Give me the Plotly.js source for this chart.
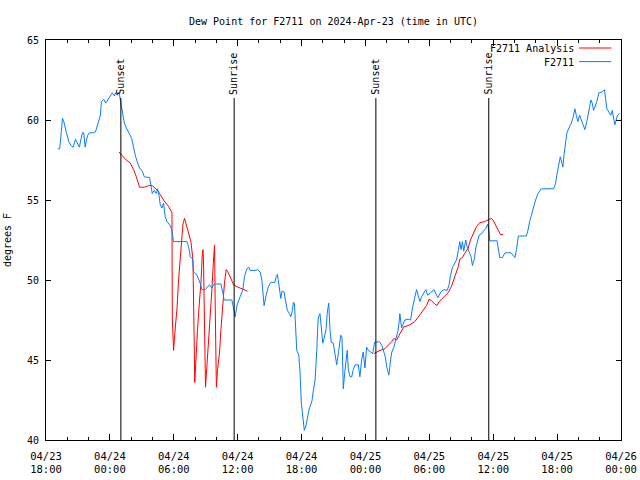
<!DOCTYPE html>
<html>
<head>
<meta charset="utf-8">
<script src="https://cdn.plot.ly/plotly-3.0.1.min.js"></script>
<style>html,body{margin:0;padding:0;background:#fff;}#chart{width:640px;height:480px;}</style>
</head>
<body>
<div id="chart"></div>
<script>
// Hours after 2024-04-23 18:00 UTC
const obsHours = [1.11,1.29,1.55,1.67,1.92,2.14,2.36,2.55,2.77,2.98,3.14,3.30,3.42,3.54,3.68,3.80,3.92,4.08,4.48,4.64,4.80,4.95,5.11,5.20,5.42,5.61,5.79,6.05,6.23,6.42,6.54,6.68,6.80,6.92,7.05,7.24,7.36,7.55,7.67,7.86,8.04,8.23,8.42,8.61,8.79,9.05,9.23,9.73,9.86,9.98,10.17,10.36,10.48,10.61,10.73,10.89,11.04,11.20,11.36,11.51,11.67,11.83,11.98,13.24,13.39,13.55,13.76,13.86,14.02,14.18,14.48,14.64,14.95,15.17,15.36,15.58,15.73,15.96,16.43,16.61,16.73,17.46,17.61,17.77,17.93,18.08,18.23,18.49,18.64,18.86,19.05,19.17,19.64,19.86,20.11,20.27,20.36,20.48,20.67,20.89,21.11,21.49,21.61,21.73,21.80,21.92,22.05,22.17,22.36,22.48,22.67,22.86,22.99,23.14,23.23,23.33,23.42,23.55,23.74,23.86,23.98,24.11,24.26,24.42,24.54,24.70,24.86,24.98,25.11,25.27,25.43,25.55,25.64,25.73,25.86,25.99,26.11,26.30,26.42,26.55,26.67,26.79,26.98,27.11,27.30,27.49,27.68,27.80,27.92,28.05,28.17,28.29,28.39,28.55,28.71,28.86,29.04,29.33,29.48,29.64,29.79,29.95,30.11,30.26,30.49,30.68,30.86,31.29,31.55,31.73,31.86,31.99,32.20,32.36,32.48,32.67,32.86,33.05,33.17,33.23,33.39,33.54,33.70,34.01,34.24,34.43,34.64,34.80,34.95,35.11,35.27,35.48,35.67,35.83,36.05,36.42,36.61,36.80,36.92,37.14,37.36,37.67,37.86,37.99,38.18,38.36,38.55,38.74,38.86,38.98,39.11,39.23,39.42,39.54,39.73,39.92,40.05,40.24,40.36,40.48,40.67,40.92,41.11,41.30,41.48,41.61,41.67,42.36,42.49,42.61,42.86,43.11,43.67,44.04,44.18,44.36,45.11,45.26,45.42,45.58,45.73,45.98,46.20,46.52,47.67,47.86,47.98,48.11,48.30,48.45,48.54,48.64,48.80,48.92,49.11,49.27,49.48,49.67,49.80,49.95,50.11,50.27,50.42,50.61,50.79,50.98,51.17,51.30,51.42,51.54,51.73,51.92,52.24,52.45,52.55,52.67,52.86,53.04,53.18,53.30,53.42,53.55,53.67,53.86];
const obsDewPoint = [58.2,58.2,60.1,59.9,59.2,58.65,58.4,58.3,58.8,58.5,58.3,58.85,59.2,59.2,58.3,58.75,59.05,59.2,59.2,59.25,59.6,59.8,60.3,61.15,61.3,61.05,61.25,61.55,61.7,61.5,61.7,61.55,61.7,61.5,61.05,60.4,59.8,59.5,59.3,59.1,58.85,58.2,57.7,57.3,57.0,56.8,56.45,56.4,55.8,55.4,55.6,55.4,55.7,55.3,54.7,54.5,54.8,53.95,53.65,53.55,53.4,53.1,52.4,52.4,52.1,51.45,51.35,50.5,50.4,50.3,49.8,49.4,49.4,49.6,49.7,49.5,49.7,49.75,49.75,49.2,48.75,48.75,48.1,47.7,48.4,48.75,48.95,49.4,50.2,50.7,50.8,50.6,50.6,50.65,50.5,50.0,49.2,48.4,49.05,49.6,49.85,49.85,50.2,50.35,50.05,49.6,48.85,49.3,49.25,48.75,48.1,47.9,47.7,48.1,48.6,48.55,46.9,45.6,45.3,44.2,42.3,41.25,40.6,40.9,41.35,41.9,42.2,42.45,43.1,43.75,45.6,47.5,47.8,47.9,47.0,46.05,46.35,46.9,48.0,48.55,46.9,46.1,46.05,45.6,44.7,45.6,46.55,46.4,43.2,44.2,44.8,45.6,44.4,43.95,43.95,44.4,44.7,44.7,43.95,45.0,45.5,44.5,45.8,45.6,45.5,45.4,46.1,46.15,45.9,45.5,45.2,44.6,44.05,45.0,45.5,45.8,46.25,46.8,47.4,47.9,47.0,47.2,47.5,47.55,47.5,48.3,49.05,49.4,49.05,48.65,48.95,49.2,49.4,49.05,49.15,49.4,49.15,48.9,49.05,49.3,49.4,49.35,49.7,50.3,50.8,51.05,51.25,51.9,52.4,51.9,52.4,51.8,52.5,52.1,51.8,51.45,50.9,51.35,52.0,52.4,52.8,52.9,53.1,53.2,53.5,53.0,52.45,52.45,51.9,51.4,51.4,51.7,51.7,51.4,51.9,52.75,52.75,53.1,53.65,54.05,54.4,55.0,55.4,55.7,55.7,56.05,56.6,57.1,57.7,57.3,57.05,57.8,58.85,59.2,59.5,59.7,60.1,60.7,60.3,59.9,60.3,60.0,59.7,59.4,59.9,60.6,61.25,61.05,60.6,60.8,61.15,61.7,61.75,61.9,61.45,60.7,60.5,60.3,60.6,60.2,59.7,60.0,60.3,60.4];

const anaHours = [6.86,7.14,7.45,7.92,8.23,8.48,8.79,9.23,9.64,9.96,10.17,10.48,10.67,11.04,11.51,11.74,11.83,11.86,11.98,12.14,12.30,12.45,12.68,12.86,13.01,13.17,13.39,13.61,13.80,13.86,13.92,13.97,14.11,14.23,14.42,14.55,14.67,14.74,14.79,14.86,14.98,15.11,15.26,15.42,15.58,15.73,15.83,15.89,16.00,16.11,16.29,16.43,16.61,16.76,16.92,17.04,17.30,17.61,17.86,18.17,18.61,18.92,
  null,
  30.80,31.36,31.83,32.14,32.46,32.67,32.93,33.17,33.39,33.61,33.80,34.17,34.64,34.95,35.18,35.48,35.74,35.98,36.21,36.52,36.73,36.92,37.14,37.45,37.76,38.08,38.30,38.48,38.70,38.86,39.11,39.33,39.64,39.86,40.11,40.42,40.73,41.20,41.51,41.83,41.98,42.23,42.45,42.67,42.92];
const anaDewPoint = [58.0,57.8,57.55,57.3,56.9,56.45,55.8,55.8,55.9,55.9,55.8,55.6,55.4,55.0,54.6,54.3,54.2,47.7,45.6,47.0,48.2,50.0,51.9,53.5,53.85,53.5,52.9,52.4,51.25,49.4,46.05,43.6,45.6,46.9,48.75,49.8,51.5,51.9,51.2,48.3,43.3,44.6,46.0,47.3,49.4,51.25,52.2,48.5,43.3,44.4,45.4,46.9,48.75,49.8,50.65,50.55,50.2,49.7,49.6,49.5,49.4,49.3,
  null,
  45.4,45.6,45.7,45.9,46.15,46.35,46.25,46.56,46.83,47.08,47.1,47.2,47.4,47.67,47.87,48.1,48.4,48.8,48.7,48.5,48.4,48.65,48.8,49.0,49.2,49.6,50.0,50.3,50.8,51.3,51.4,51.67,51.98,52.5,52.9,53.33,53.58,53.65,53.75,53.85,53.75,53.44,53.1,52.85,52.85];

const eventHours = [7.03, 17.67, 30.98, 41.58];
const eventLabels = ["Sunset", "Sunrise", "Sunset", "Sunrise"];
const seriesNames = ["F2711 Analysis", "F2711"];
const seriesColors = ["#ff0000", "#0a7cff"];

const BASE = Date.UTC(2024, 3, 23, 18, 0, 0);
function toDate(h) {
  if (h === null) return null;
  const d = new Date(BASE + Math.round(h * 3600000));
  return d.toISOString().replace('T', ' ').slice(0, 19);
}

const FONT = "DejaVu Sans Mono, monospace";

const traces = [
  {x: anaHours.map(toDate), y: anaDewPoint, type: 'scatter', mode: 'lines', name: seriesNames[0],
   line: {color: seriesColors[0], width: 1}, connectgaps: false, hoverinfo: 'skip'},
  {x: obsHours.map(toDate), y: obsDewPoint, type: 'scatter', mode: 'lines', name: seriesNames[1],
   line: {color: seriesColors[1], width: 1}, hoverinfo: 'skip'}
];

const shapes = eventHours.map(h => ({
  type: 'line', xref: 'x', yref: 'paper', x0: toDate(h), x1: toDate(h), y0: 0, y1: 0.855,
  line: {color: '#000', width: 1}
}));
const annotations = eventHours.map((h, i) => ({
  x: toDate(h), y: 0.858, xref: 'x', yref: 'paper', text: eventLabels[i], textangle: -90,
  showarrow: false, xanchor: 'center', yanchor: 'bottom', font: {family: FONT, size: 10, color: '#000'}
}));
// legend (text right-aligned, sample line to the right)
seriesNames.forEach((n, i) => {
  annotations.push({x: 0.921, y: 0.978 - i * 0.034, xref: 'paper', yref: 'paper', text: n,
    showarrow: false, xanchor: 'right', yanchor: 'middle', font: {family: FONT, size: 10, color: '#000'}});
  shapes.push({type: 'line', xref: 'paper', yref: 'paper', x0: 0.927, x1: 0.983,
    y0: 0.98 - i * 0.034, y1: 0.98 - i * 0.034, line: {color: seriesColors[i], width: 1}});
});

const layout = {
  width: 640, height: 480,
  margin: {l: 46, r: 19, t: 40, b: 40},
  paper_bgcolor: '#fff', plot_bgcolor: '#fff',
  showlegend: false,
  font: {family: FONT, size: 10, color: '#000'},
  title: {text: 'Dew Point for F2711 on 2024-Apr-23 (time in UTC)', x: 0.5, xref: 'paper', y: 0.962, yref: 'container',
          font: {family: FONT, size: 10, color: '#000'}},
  xaxis: {
    type: 'date', range: [toDate(0), toDate(54)],
    tick0: toDate(0), dtick: 6 * 3600000, tickformat: '%m/%d<br>%H:%M',
    ticks: 'inside', ticklen: 6, tickcolor: '#000', tickwidth: 1, ticklabelstandoff: 6,
    minor: {dtick: 2 * 3600000, ticks: 'inside', ticklen: 3, tickcolor: '#000', showgrid: false},
    showline: true, linecolor: '#000', linewidth: 1, mirror: 'ticks',
    showgrid: false, zeroline: false, fixedrange: true,
    tickfont: {family: FONT, size: 10.5, color: '#000'}
  },
  yaxis: {
    range: [40, 65], dtick: 5, tick0: 40,
    ticks: 'inside', ticklen: 5, tickcolor: '#000', tickwidth: 1, ticklabelstandoff: 4,
    showline: true, linecolor: '#000', linewidth: 1, mirror: 'ticks',
    showgrid: false, zeroline: false, fixedrange: true,
    tickfont: {family: FONT, size: 10, color: '#000'},
    title: {text: 'degrees F', standoff: 13, font: {family: FONT, size: 10, color: '#000'}}
  },
  shapes: shapes,
  annotations: annotations
};

Plotly.newPlot('chart', traces, layout, {staticPlot: true, displayModeBar: false});
</script>
</body>
</html>
